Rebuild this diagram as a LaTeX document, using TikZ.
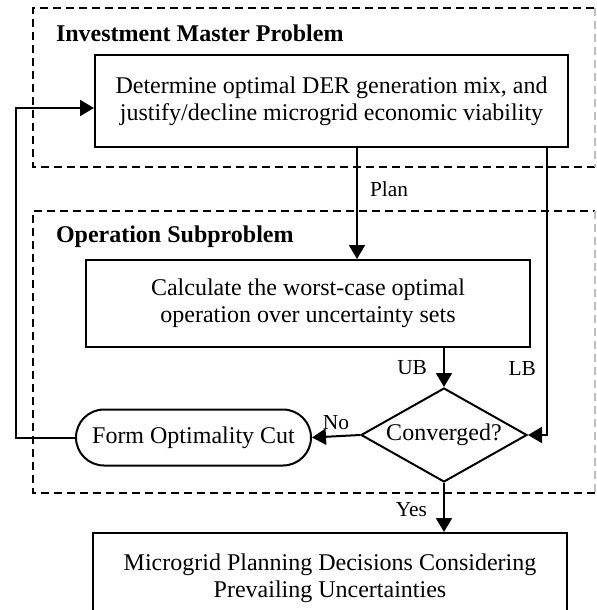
\documentclass[tikz,border=0pt]{standalone}
\usepackage{fontspec}
\setmainfont{Liberation Serif}
\usetikzlibrary{shapes.geometric, shapes.misc, arrows.meta, positioning}

\begin{document}
\begin{tikzpicture}[x=0.5pt, y=-0.5pt, line width=1pt,
  procbox/.style={draw, rectangle, align=center, inner sep=0pt, font=\fontsize{12}{13.5}\selectfont},
  decision/.style={draw, diamond, aspect=1.77, inner sep=0pt, minimum width=83pt, minimum height=47pt, font=\fontsize{12}{13.5}\selectfont},
  cutbox/.style={draw, rounded rectangle, inner sep=0pt, minimum width=117.5pt, minimum height=28pt, font=\fontsize{12}{13.5}\selectfont},
  flow/.style={-{Triangle[length=7pt, width=8pt]}},
  groupline/.style={dash pattern=on 4pt off 2.5pt},
  tag/.style={font=\fontsize{10.7}{12}\selectfont, inner sep=0pt},
  grouptitle/.style={anchor=west, inner sep=0pt, font=\bfseries\fontsize{12}{14}\selectfont}]
\useasboundingbox (0,0) rectangle (596,610);
\clip (0,0) rectangle (596,610);

% Dashed groups
\draw[groupline] (595,167) -- (33,167) -- (33,8) -- (595,8);
\draw[groupline, gray!50] (595,8) -- (595,167);
\draw[groupline] (595,493) -- (33,493) -- (33,211) -- (595,211);
\draw[groupline, gray!50] (595,211) -- (595,493);
\node[grouptitle] (mastertitle) at (55,33) {Investment Master Problem};
\node[grouptitle] (subtitle) at (55,237) {Operation Subproblem};

% Steps
\node[procbox, minimum width=236.5pt, minimum height=45.5pt] (det) at (331.5,101)
  {Determine optimal DER generation mix, and\\justify/decline microgrid economic viability};
\node[procbox, minimum width=222pt, minimum height=43.5pt] (calc) at (308,303.5)
  {Calculate the worst-case optimal\\operation over uncertainty sets};
\node[decision] (conv) at (444,435) {Converged?};
\node[cutbox] (cut) at (193.5,437.5) {Form Optimality Cut};
\node[procbox, minimum width=237pt, minimum height=45pt, anchor=north] (plan) at (330,532)
  {Microgrid Planning Decisions Considering\\Prevailing Uncertainties};

% Connectors
\coordinate (planx) at (357,0);
\coordinate (lbx) at (547,0);
\coordinate (loop) at (16,108);
\draw[flow] (det.south -| planx) -- (calc.north -| planx) node[tag, pos=0.37, right=6pt] {Plan};
\draw[flow] (calc.south -| conv) -- (conv.north) node[tag, midway, left=8pt] {UB};
\draw[flow] (det.south -| lbx) |- (conv.east) node[tag, pos=0.385, left=5pt] {LB};
\draw[flow] (conv.west) -- (cut.east) node[tag, midway, above=3pt] {No};
\draw[flow] (cut.west) -| (loop) -- (det.west |- loop);
\draw[flow] (conv.south) -- (conv.south |- plan.north) node[tag, pos=0.55, left=8pt] {Yes};
\end{tikzpicture}
\end{document}
